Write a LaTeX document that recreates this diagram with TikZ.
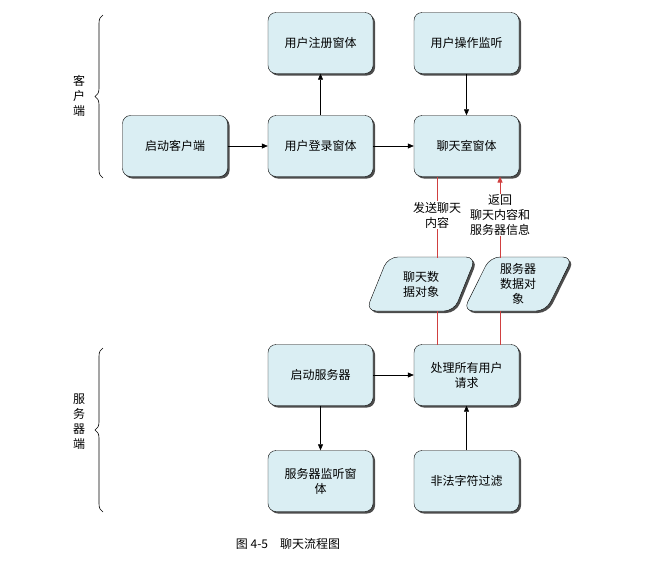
\documentclass[tikz,border=0pt]{standalone}
\usepackage{fontspec}
\setmainfont{Noto Sans CJK SC}
\usetikzlibrary{shapes.geometric,arrows.meta,decorations.pathreplacing,shadows}
\begin{document}
\begin{tikzpicture}[x=1pt,y=-1pt,
  box/.style={draw=black,fill=boxc,rounded corners=8pt,minimum width=105pt,minimum height=61pt,align=center,font=\fontsize{12}{15}\selectfont,drop shadow={shadow xshift=2pt,shadow yshift=-2pt,fill=black!70,opacity=1}},
  data/.style={draw=black,fill=boxc,trapezium,trapezium left angle=70,trapezium right angle=110,trapezium stretches=true,rounded corners=10pt,minimum width=110pt,minimum height=54pt,align=center,font=\fontsize{12}{15}\selectfont,inner xsep=0pt,drop shadow={shadow xshift=2pt,shadow yshift=-2pt,fill=black!70,opacity=1}},
  arr/.style={-{Triangle[length=6pt,width=5pt]},line width=0.6pt},
  rline/.style={draw=rc,line width=0.8pt},
  lbl/.style={font=\fontsize{12}{15}\selectfont,align=center,fill=white,inner sep=1pt}]
\definecolor{boxc}{HTML}{DAEEF3}
\definecolor{rc}{HTML}{D04040}
\useasboundingbox (0,0) rectangle (647,574);
\node[box] (reg) at (320.5,43) {用户注册窗体};
\node[box] (mon) at (466.5,43) {用户操作监听};
\node[box] (cli) at (175,146) {启动客户端};
\node[box] (login) at (320.5,146) {用户登录窗体};
\node[box] (chat) at (466.5,146) {聊天室窗体};
\node[data] (cdata) at (421,284) {聊天数\\据对象};
\node[data] (sdata) at (518,284) {服务器\\数据对\\象};
\node[box] (srv) at (320.5,375) {启动服务器};
\node[box] (proc) at (466.5,375) {处理所有用户\\请求};
\node[box] (slis) at (320.5,481) {服务器监听窗\\体};
\node[box] (filt) at (466.5,481) {非法字符过滤};
\draw[arr] (cli) -- (login);
\draw[arr] (login) -- (chat);
\draw[arr] (login) -- (reg);
\draw[arr] (mon) -- (chat);
\draw[arr] (srv) -- (proc);
\draw[arr] (srv) -- (slis);
\draw[arr] (filt) -- (proc);
\coordinate (c1) at (437,176.5);
\coordinate (c2) at (437,258);
\coordinate (c3) at (437,311);
\coordinate (c4) at (437,344.5);
\coordinate (s1) at (500,176.5);
\coordinate (s2) at (500,258);
\coordinate (s3) at (500,311);
\coordinate (s4) at (500,344.5);
\draw[rline] (c1) -- (c2);
\draw[rline] (c3) -- (c4);
\draw[rline] (s3) -- (s4);
\draw[rline,-{Triangle[length=6pt,width=5pt]}] (s2) -- (s1);
\node[lbl] (l1) at (437,215) {发送聊天\\内容};
\node[lbl] (l2) at (500,215) {返回\\聊天内容和\\服务器信息};
\draw[decorate,decoration={brace,amplitude=8pt},line width=0.6pt] (103,178) -- (103,15);
\draw[decorate,decoration={brace,amplitude=8pt},line width=0.6pt] (103,512) -- (103,348);
\node[font=\fontsize{12}{15}\selectfont,align=center] (k1) at (79,96) {客\\户\\端};
\node[font=\fontsize{12}{15}\selectfont,align=center] (k2) at (79,422) {服\\务\\器\\端};
\node[font=\fontsize{12}{15}\selectfont] (cap) at (288,544) {图 4-5\quad 聊天流程图};
\end{tikzpicture}
\end{document}
